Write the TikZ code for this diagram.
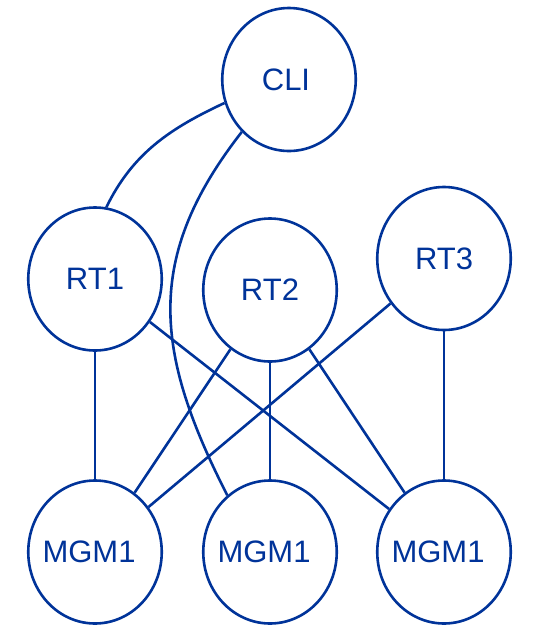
\documentclass[tikz,border=0pt]{standalone}
\usepackage{fontspec}
\setmainfont{Liberation Sans}
\usetikzlibrary{shapes.geometric}
\definecolor{netblue}{RGB}{0,51,153}
\tikzset{
  proc/.style={ellipse, draw=netblue, line width=2.6pt, inner xsep=-30pt, inner ysep=0pt,
    minimum width=133.5pt, minimum height=143pt, text=netblue, font=\fontsize{31}{36}\selectfont},
  link/.style={draw=netblue, line width=2.6pt}
}
\begin{document}
\begin{tikzpicture}[x=1pt,y=-1pt]
    % Marco del dibujo
    \useasboundingbox (0,0) rectangle (537,625);

    % Cliente
    \node[proc] (cli) at (289,79.5) {CLI\hspace*{6pt}};

    % Routers
    \node[proc] (rt1) at (95,279) {RT1};
    \node[proc] (rt2) at (270,290) {RT2};
    \node[proc] (rt3) at (444,258.5) {RT3};

    % Gestores
    \foreach \n/\x in {1/95,2/270,3/444}
        \node[proc] (mgm\n) at (\x,552) {MGM1\hspace*{12pt}};

    % Enlaces curvos desde el cliente
    \draw[link] (cli.200) .. controls +(205:60pt) and +(64:60pt) .. (rt1.81);
    \draw[link] (cli.228) .. controls +(232:160pt) and +(117:160pt) .. (mgm2.127);

    % Enlaces rectos entre routers y gestores
    \foreach \a/\b in {rt1/mgm1,rt1/mgm3,rt2/mgm1,rt2/mgm2,rt2/mgm3,rt3/mgm1,rt3/mgm3}
        \draw[link] (\a) -- (\b);
\end{tikzpicture}
\end{document}
